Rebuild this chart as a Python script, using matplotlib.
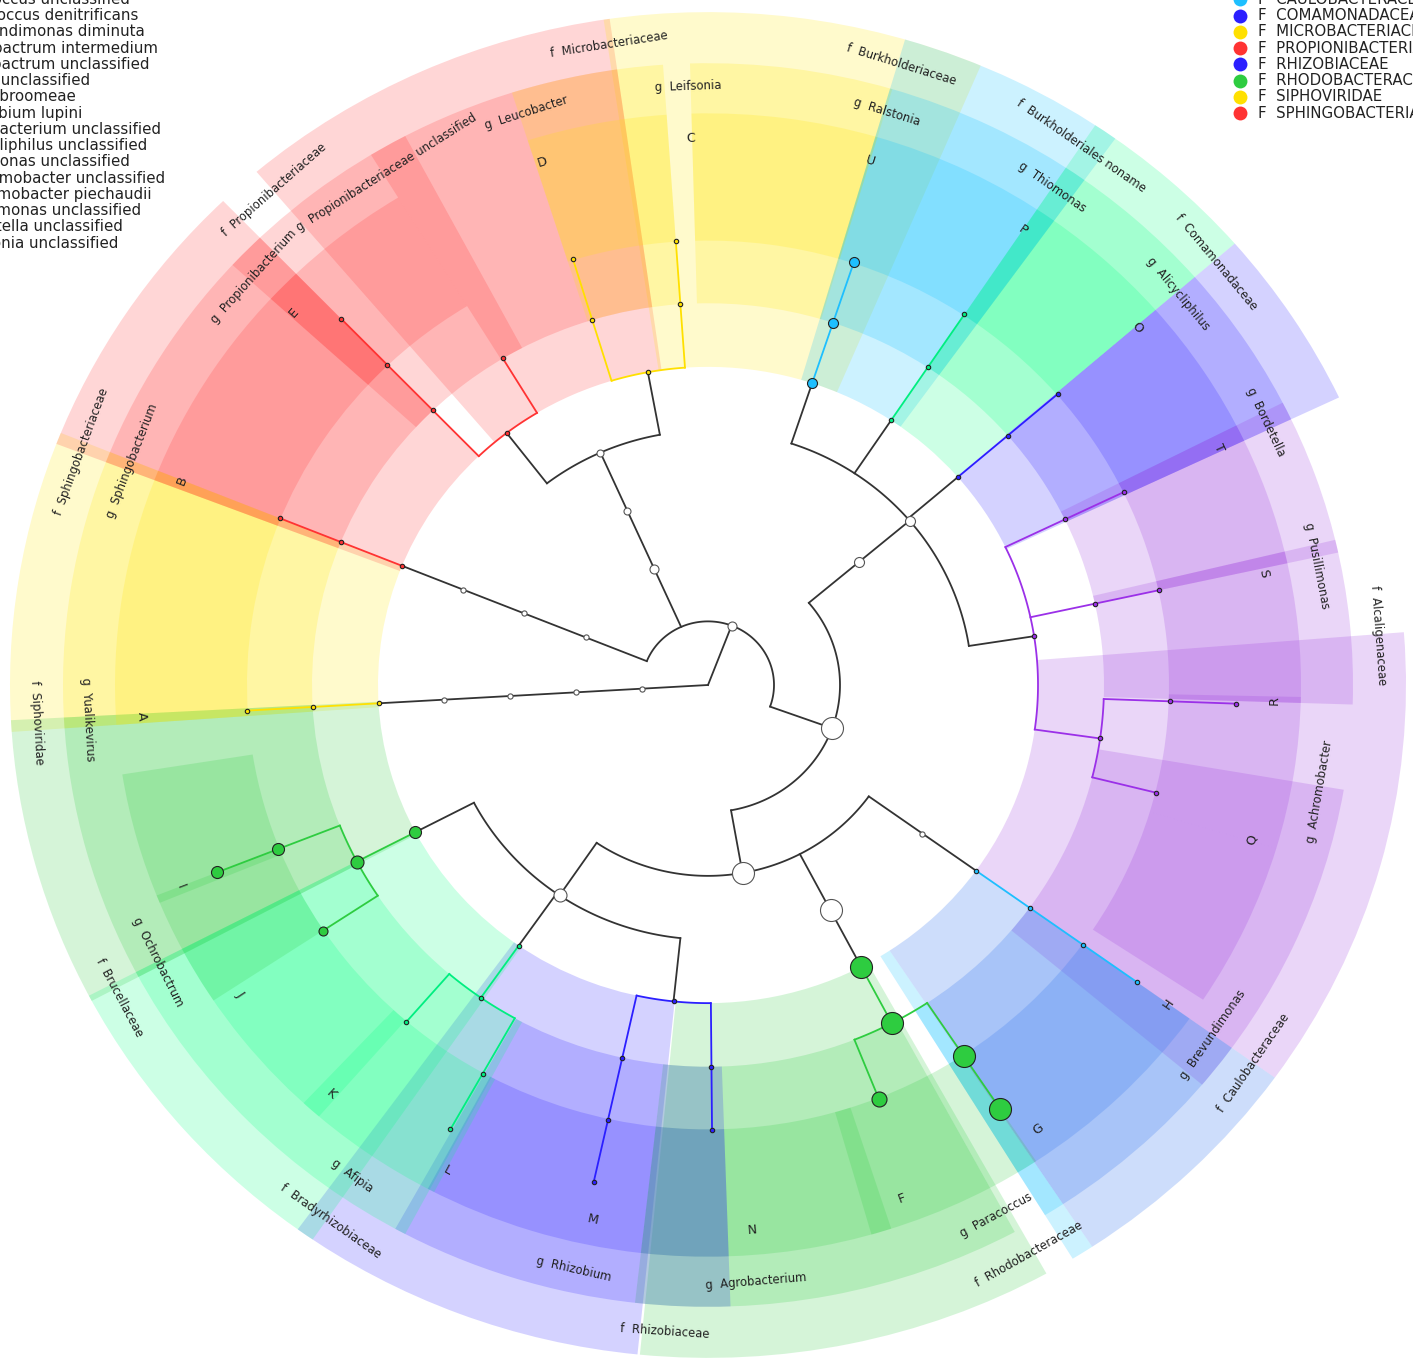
import numpy as np
import matplotlib
matplotlib.use("Agg")
import matplotlib.pyplot as plt

W, H = 1413, 1362
CX, CY = 708, 685          # centre of the ring in pixels
RMAX = 700                 # polar radius shown
YS = 0.964                 # the picture is a bit squashed vertically

# --- taxonomy: kingdom|phylum|class|order|family|genus|species|strain ---
clades = [
    "Viruses|Viruses noname|Viruses noname c|Caudovirales|Siphoviridae|Yualikevirus|A",
    "Bacteria|Bacteroidetes|Sphingobacteriia|Sphingobacteriales|Sphingobacteriaceae|Sphingobacterium|B",
    "Bacteria|Actinobacteria|Actinobacteria c|Actinomycetales|Propionibacteriaceae|Propionibacterium|E|E t",
    "Bacteria|Actinobacteria|Actinobacteria c|Actinomycetales|Propionibacteriaceae|Propionibacteriaceae unclassified",
    "Bacteria|Actinobacteria|Actinobacteria c|Actinomycetales|Microbacteriaceae|Leucobacter|D",
    "Bacteria|Actinobacteria|Actinobacteria c|Actinomycetales|Microbacteriaceae|Leifsonia|C",
    "Bacteria|Proteobacteria|Betaproteobacteria|Burkholderiales|Burkholderiaceae|Ralstonia|U",
    "Bacteria|Proteobacteria|Betaproteobacteria|Burkholderiales|Burkholderiales noname|Thiomonas|P",
    "Bacteria|Proteobacteria|Betaproteobacteria|Burkholderiales|Comamonadaceae|Alicycliphilus|O",
    "Bacteria|Proteobacteria|Betaproteobacteria|Burkholderiales|Alcaligenaceae|Bordetella|T",
    "Bacteria|Proteobacteria|Betaproteobacteria|Burkholderiales|Alcaligenaceae|Pusillimonas|S",
    "Bacteria|Proteobacteria|Betaproteobacteria|Burkholderiales|Alcaligenaceae|Achromobacter|R|R t",
    "Bacteria|Proteobacteria|Betaproteobacteria|Burkholderiales|Alcaligenaceae|Achromobacter|Q",
    "Bacteria|Proteobacteria|Alphaproteobacteria|Caulobacterales|Caulobacteraceae|Brevundimonas|H|H t",
    "Bacteria|Proteobacteria|Alphaproteobacteria|Rhodobacterales|Rhodobacteraceae|Paracoccus|G|G t",
    "Bacteria|Proteobacteria|Alphaproteobacteria|Rhodobacterales|Rhodobacteraceae|Paracoccus|F",
    "Bacteria|Proteobacteria|Alphaproteobacteria|Rhizobiales|Rhizobiaceae|Agrobacterium|N",
    "Bacteria|Proteobacteria|Alphaproteobacteria|Rhizobiales|Rhizobiaceae|Rhizobium|M|M t",
    "Bacteria|Proteobacteria|Alphaproteobacteria|Rhizobiales|Bradyrhizobiaceae|Afipia|L|L t",
    "Bacteria|Proteobacteria|Alphaproteobacteria|Rhizobiales|Bradyrhizobiaceae|Afipia|K",
    "Bacteria|Proteobacteria|Alphaproteobacteria|Rhizobiales|Brucellaceae|Ochrobactrum|J",
    "Bacteria|Proteobacteria|Alphaproteobacteria|Rhizobiales|Brucellaceae|Ochrobactrum|I|I t",
]
# angle (degrees) of each tip branch
tip_angle = [183.3, 158, 134, 121.2, 107, 94, 71.6, 56.3, 40.8, 25.7, 12.3, -2.1, -14,
             -35.7, -56.4, -68.3, -89.5, -102.5, -119.2, -130.8, -146.5, -158.4]

# node circle radius (px) ~ abundance; everything else is a small dot
node_abundance = {
    "Bacteria": 4.5, "Actinobacteria": 4.5, "Actinobacteria c": 3.5, "Actinomycetales": 3.5,
    "Proteobacteria": 11, "Betaproteobacteria": 5, "Burkholderiales": 5,
    "Alphaproteobacteria": 11, "Rhodobacterales": 11, "Rhizobiales": 6.5,
    "Rhodobacteraceae": 11, "Paracoccus": 11, "G": 11, "G t": 11, "F": 7.5,
    "Brucellaceae": 6, "Ochrobactrum": 6.5, "I": 6, "I t": 6, "J": 4.5,
    "Burkholderiaceae": 5, "Ralstonia": 5, "U": 5,
}

# labels sit a little off their branch in the original
label_shift = {
    "Sphingobacteriaceae": 0.9, "Propionibacteriaceae": 2.6, "Microbacteriaceae": -2,
    "Burkholderiaceae": 1.7, "Alcaligenaceae": -4.4, "Rhodobacteraceae": 0.9,
    "Rhizobiaceae": 2.3, "Bradyrhizobiaceae": 0.8, "Brucellaceae": 1.3,
    "Propionibacterium": 3, "Leifsonia": -2.2, "Ralstonia": 1.7, "Bordetella": 0.4,
    "Pusillimonas": -0.8, "Achromobacter": -2.2, "Agrobacterium": 3.9,
    "E": 3, "C": -2.2, "U": 1.8, "S": -0.5, "R": 0.5, "Q": -2.5, "G": 2, "F": -1.7,
    "N": 4, "M": 0.8, "L": 1.9, "K": -0.8, "J": 0.9,
}

# legend (letters) and legend (families)
letters = list("ABCDEFGHIJKLMNOPQRSTU")
species_names = ["Yualikevirus unclassified", "Sphingobacterium unclassified",
                 "Leifsonia unclassified", "Leucobacter unclassified",
                 "Propionibacterium unclassified", "Paracoccus unclassified",
                 "Paracoccus denitrificans", "Brevundimonas diminuta",
                 "Ochrobactrum intermedium", "Ochrobactrum unclassified",
                 "Afipia unclassified", "Afipia broomeae", "Rhizobium lupini",
                 "Agrobacterium unclassified", "Alicycliphilus unclassified",
                 "Thiomonas unclassified", "Achromobacter unclassified",
                 "Achromobacter piechaudii", "Pusillimonas unclassified",
                 "Bordetella unclassified", "Ralstonia unclassified"]
families = ["Alcaligenaceae", "Bradyrhizobiaceae", "Brucellaceae", "Burkholderiaceae",
            "Burkholderiales noname", "Caulobacteraceae", "Comamonadaceae",
            "Microbacteriaceae", "Propionibacteriaceae", "Rhizobiaceae",
            "Rhodobacteraceae", "Siphoviridae", "Sphingobacteriaceae"]
family_colors = ["#9b30e8", "#00ee80", "#2ecc40", "#1ebfff", "#00ee80", "#1ebfff",
                 "#2b1fff", "#ffe000", "#ff3333", "#2b1fff", "#2ecc40", "#ffe000", "#ff3333"]
family_color = dict(zip(families, family_colors))

# shaded backgrounds: (clade, from deg, to deg, tint) for family / genus / species rings
tint = {"yellow": "#ffe600", "red": "#ff3333", "cyan": "#00bfff", "mint": "#00ff80",
        "blue": "#2b1fff", "purple": "#9933dd", "green": "#2ecc40", "periwinkle": "#3a7af0"}
tint_alpha = {"periwinkle": 0.25}
family_spans = [
    ("Siphoviridae", 158, 184, "yellow"), ("Sphingobacteriaceae", 134, 159, "red"),
    ("Propionibacteriaceae", 98.1, 130.3, "red"), ("Microbacteriaceae", 67, 98.6, "yellow"),
    ("Burkholderiaceae", 54.3, 73.6, "cyan"), ("Burkholderiales noname", 41, 56.3, "mint"),
    ("Comamonadaceae", 25.3, 41, "blue"), ("Alcaligenaceae", -35.7, 4.5, "purple"),
    ("Caulobacteraceae", -58.5, -56.6, "cyan"), ("Caulobacteraceae", -56.6, -35.7, "periwinkle"),
    ("Rhodobacteraceae", -95.6, -61, "green"), ("Rhizobiaceae", -126, -95.8, "blue"),
    ("Bradyrhizobiaceae", -152.5, -124.5, "mint"), ("Brucellaceae", -177, -152, "green"),
]
genus_spans = [
    ("Yualikevirus", 158, 184, "yellow"), ("Sphingobacterium", 134, 159, "red"),
    ("Propionibacterium", 118, 137.5, "red"),
    ("Propionibacteriaceae unclassified", 98.1, 121.5, "red"),
    ("Leucobacter", 94, 107.7, "yellow"), ("Leifsonia", 73.4, 91.6, "yellow"),
    ("Ralstonia", 54.3, 73.6, "cyan"), ("Thiomonas", 41, 56.3, "mint"),
    ("Alicycliphilus", 25.3, 41, "blue"), ("Bordetella", 12.3, 27, "purple"),
    ("Pusillimonas", -1.8, 13.5, "purple"), ("Achromobacter", -40, -9.7, "purple"),
    ("Brevundimonas", -58.5, -56.6, "cyan"), ("Brevundimonas", -56.6, -35.7, "periwinkle"),
    ("Paracoccus", -96.5, -61.6, "green"), ("Agrobacterium", -96.5, -88, "blue"),
    ("Rhizobium", -119, -96.5, "blue"), ("Afipia", -152.5, -118, "mint"),
    ("Ochrobactrum", -177, -152, "green"),
]
species_spans = [
    ("A", 158, 184, "yellow"), ("B", 134, 159, "red"), ("E", 121.5, 137.5, "red"),
    ("D", 94, 107.7, "yellow"), ("C", 73.4, 91.6, "yellow"), ("U", 54.3, 73.6, "cyan"),
    ("P", 41, 56.3, "mint"), ("O", 25.3, 41, "blue"), ("T", 12.3, 27, "purple"),
    ("S", -1.8, 13.5, "purple"), ("R", -16.6, -1.2, "purple"), ("Q", -33.4, -16.6, "purple"),
    ("H", -58.5, -56.6, "cyan"), ("H", -56.6, -35.7, "periwinkle"),
    ("G", -61.6, -56.4, "green"), ("F", -96.5, -61.6, "green"), ("F", -74, -72, "green"),
    ("N", -96.5, -88, "blue"), ("M", -118.2, -96.5, "blue"), ("L", -133, -117.5, "mint"),
    ("K", -152.5, -131, "mint"), ("J", -158.4, -146.5, "green"), ("I", -171, -157.6, "green"),
]
ring_in = [330, 396, 461]
ring_out = [698, 645, 593]
R_STEP = 66     # radius of one taxonomic level

# --- build the tree ---
nodes = {}
for path, ang in zip(clades, tip_angle):
    parts = path.split("|")
    for d in range(1, len(parts) + 1):
        key = tuple(parts[:d])
        if key not in nodes:
            nodes[key] = {"children": [], "angle": None}
            if d > 1:
                nodes[tuple(parts[:d - 1])]["children"].append(key)
    nodes[tuple(parts)]["angle"] = ang


def settle(key):
    n = nodes[key]
    if n["children"]:
        a = [settle(c) for c in n["children"]]
        n["angle"] = (a[0] + a[-1]) / 2
    return n["angle"]


for k in [k for k in nodes if len(k) == 1]:
    settle(k)


def text_rot(deg):
    t = np.deg2rad(deg)
    phi = np.degrees(np.arctan2(YS * np.sin(t), np.cos(t)))
    return phi - 90 if np.sin(t) > 0 else phi + 90


fig = plt.figure(figsize=(W / 100, H / 100), dpi=100)
ax = fig.add_axes([(CX - RMAX) / W, (H - CY - RMAX * YS) / H, 2 * RMAX / W, 2 * RMAX * YS / H],
                  projection="polar")
ax.set_aspect("auto")
ax.set_ylim(0, RMAX)
ax.axis("off")

# backgrounds
for level, spans in enumerate([family_spans, genus_spans, species_spans]):
    for name, lo, hi, t in spans:
        ax.bar(np.deg2rad((lo + hi) / 2), ring_out[level] - ring_in[level],
               width=np.deg2rad(hi - lo), bottom=ring_in[level],
               color=tint[t], alpha=tint_alpha.get(t, 0.2), linewidth=0, zorder=1)

BLACK = "#333333"
for key, n in nodes.items():
    d = len(key)
    fam = key[4] if d >= 5 else None
    if len(n["children"]) > 1:
        a = [nodes[c]["angle"] for c in n["children"]]
        th = np.deg2rad(np.linspace(min(a), max(a), 100))
        ax.plot(th, np.full(th.size, R_STEP * d), color=family_color[fam] if fam else BLACK,
                lw=1.3, zorder=2, solid_capstyle="round")
    th = np.deg2rad(n["angle"])
    ax.plot([th, th], [R_STEP * (d - 1), R_STEP * d],
            color=family_color[fam] if d >= 6 else BLACK, lw=1.3, zorder=2)

# node circles
for key, n in nodes.items():
    d = len(key)
    rad = node_abundance.get(key[-1], 2.6 if d < 5 else 2.2)
    if d >= 5:
        face, edge = family_color[key[4]], "#222222"
    else:
        face, edge = "white", "#555555"
    ax.scatter(np.deg2rad(n["angle"]), R_STEP * d, s=(1.44 * rad) ** 2, facecolor=face,
               edgecolor=edge, linewidth=0.8, zorder=3)

# clade labels
for key, n in nodes.items():
    d = len(key)
    if d == 5:
        s, r, fs = "f  " + key[-1], 672, 8.4
    elif d == 6:
        s, r, fs = "g  " + key[-1], 621, 8.4
    elif d == 7:
        s, r, fs = key[-1], 567, 9.2
    else:
        continue
    ang = n["angle"] + label_shift.get(key[-1], 0)
    ax.text(np.deg2rad(ang), r, s, rotation=text_rot(ang),
            rotation_mode="anchor", ha="center", va="center", fontsize=fs,
            color="#222222", zorder=4)

# legends (partly cut by the figure edges, as in the original)
lax = fig.add_axes([0, 0, 1, 1])
lax.set_xlim(0, W)
lax.set_ylim(H, 0)
lax.axis("off")
row0, row_h = -82, 16.26
for i, (L, name) in enumerate(zip(letters, species_names)):
    lax.text(-66, row0 + i * row_h, f"{L}: {name}", fontsize=10.8, va="center",
             ha="left", color="#222222")
for i, (fam, col) in enumerate(zip(families, family_colors)):
    y = row0 + i * row_h
    lax.scatter([1240], [y], s=100, color=col, linewidth=0, clip_on=False)
    lax.text(1258, y, "F  " + fam.upper(), fontsize=10.8, va="center", ha="left",
             color="#222222")

fig.savefig("out.png", dpi=100)
